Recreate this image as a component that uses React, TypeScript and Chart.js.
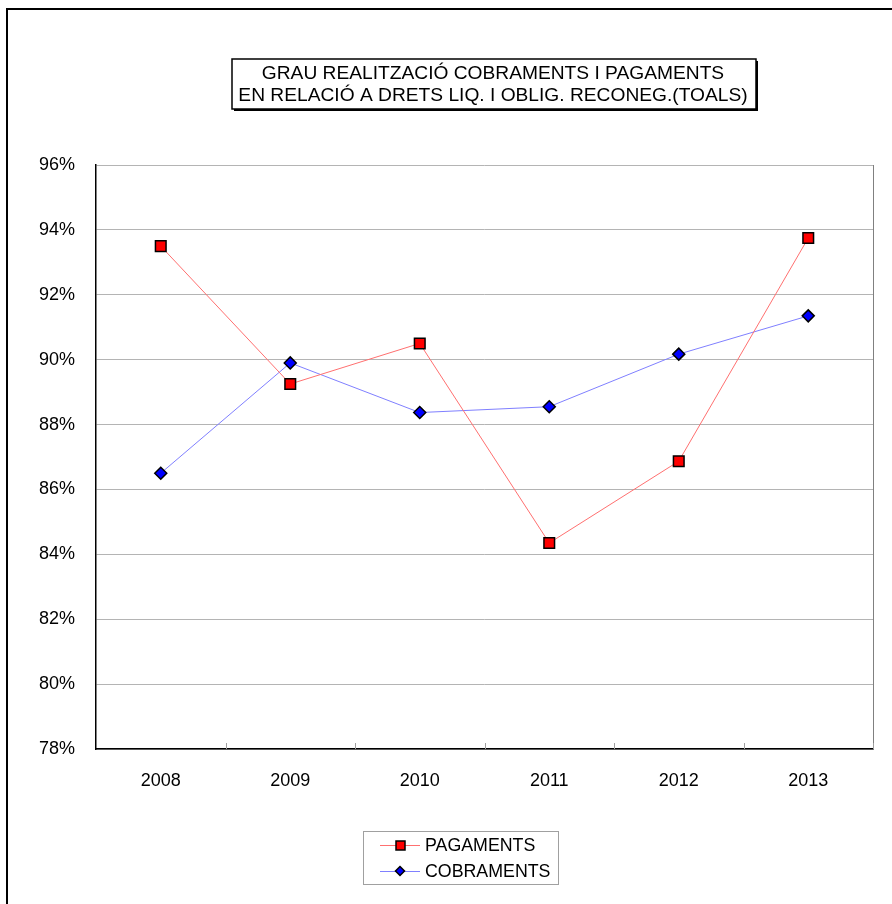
import React, { useEffect, useRef } from "react";
import { Chart, registerables } from "chart.js";

Chart.register(...registerables);

const categories = ["2008", "2009", "2010", "2011", "2012", "2013"];
const pagaments = [93.5, 89.25, 90.5, 84.35, 86.87, 93.75];
const cobraments = [86.5, 89.9, 88.37, 88.55, 90.17, 91.35];
const titleLines = [
  "GRAU REALITZACIÓ COBRAMENTS I PAGAMENTS",
  "EN RELACIÓ A DRETS LIQ. I OBLIG. RECONEG.(TOALS)",
];
const yMin = 78;
const yMax = 96;
const yStep = 2;

const FONT = "'Liberation Sans', Arial, sans-serif";

const decorPlugin = {
  id: "decor",
  beforeDraw(chart: any) {
    const { ctx } = chart;
    ctx.save();
    ctx.fillStyle = "#ffffff";
    ctx.fillRect(0, 0, chart.width, chart.height);
    ctx.restore();
  },
  afterDraw(chart: any) {
    const { ctx, chartArea } = chart;
    const x = chart.scales.x;
    ctx.save();
    // outer border
    ctx.strokeStyle = "#000";
    ctx.lineWidth = 2;
    ctx.beginPath();
    ctx.moveTo(7, 920);
    ctx.lineTo(7, 9);
    ctx.lineTo(900, 9);
    ctx.stroke();

    // right border of plot
    ctx.strokeStyle = "#808080";
    ctx.lineWidth = 1;
    ctx.beginPath();
    ctx.moveTo(chartArea.right + 0.5, chartArea.top);
    ctx.lineTo(chartArea.right + 0.5, chartArea.bottom);
    ctx.stroke();

    // small inner ticks at category boundaries
    ctx.strokeStyle = "#a0a0a0";
    for (let i = 0; i < categories.length; i++) {
      const px = Math.round((x.getPixelForValue(i) + x.getPixelForValue(i + 1)) / 2) + 0.5;
      ctx.beginPath();
      ctx.moveTo(px, chartArea.bottom);
      ctx.lineTo(px, chartArea.bottom - 6);
      ctx.stroke();
    }

    // title box
    const tb = { l: 232, t: 59, r: 756, b: 109 };
    ctx.fillStyle = "#000";
    ctx.fillRect(tb.l + 2, tb.t + 2, tb.r - tb.l, tb.b - tb.t);
    ctx.fillStyle = "#fff";
    ctx.fillRect(tb.l, tb.t, tb.r - tb.l, tb.b - tb.t);
    ctx.strokeStyle = "#000";
    ctx.lineWidth = 1.5;
    ctx.strokeRect(tb.l, tb.t, tb.r - tb.l, tb.b - tb.t);
    ctx.fillStyle = "#000";
    ctx.font = `19.2px ${FONT}`;
    ctx.textAlign = "center";
    ctx.textBaseline = "middle";
    ctx.fillText(titleLines[0], (tb.l + tb.r) / 2 - 1, 74);
    ctx.fillText(titleLines[1], (tb.l + tb.r) / 2 - 1, 95.5);

    // legend box
    const lb = { l: 363, t: 831, r: 558, b: 884 };
    ctx.strokeStyle = "#a0a0a0";
    ctx.lineWidth = 1;
    ctx.strokeRect(lb.l + 0.5, lb.t + 0.5, lb.r - lb.l, lb.b - lb.t);
    const ds = chart.data.datasets;
    const rows = [845, 871];
    ds.forEach((d: any, i: number) => {
      const y = rows[i];
      ctx.strokeStyle = d.borderColor;
      ctx.lineWidth = 1;
      ctx.beginPath();
      ctx.moveTo(380, y + 0.5);
      ctx.lineTo(420, y + 0.5);
      ctx.stroke();
      ctx.fillStyle = d.pointBackgroundColor;
      ctx.strokeStyle = "#000";
      ctx.lineWidth = 1.5;
      if (i === 0) {
        ctx.fillRect(396, y - 4, 9, 9);
        ctx.strokeRect(396, y - 4, 9, 9);
      } else {
        ctx.beginPath();
        ctx.moveTo(400, y - 4.5);
        ctx.lineTo(404.5, y);
        ctx.lineTo(400, y + 4.5);
        ctx.lineTo(395.5, y);
        ctx.closePath();
        ctx.fill();
        ctx.stroke();
      }
      ctx.fillStyle = "#000";
      ctx.font = `17.8px ${FONT}`;
      ctx.textAlign = "left";
      ctx.textBaseline = "middle";
      ctx.fillText(d.label, 425, y + 1);
    });
    ctx.restore();
  },
};

export default function App() {
  const ref = useRef<HTMLCanvasElement | null>(null);
  useEffect(() => {
    if (!ref.current) return;
    const chart = new Chart(ref.current, {
      type: "line",
      data: {
        labels: categories,
        datasets: [
          {
            label: "PAGAMENTS",
            data: pagaments,
            borderColor: "#ff7070",
            borderWidth: 1,
            pointStyle: "rect",
            pointRadius: 7.5,
            pointBackgroundColor: "#ff0000",
            pointBorderColor: "#000",
            pointBorderWidth: 1.5,
            tension: 0,
          },
          {
            label: "COBRAMENTS",
            data: cobraments,
            borderColor: "#8080ff",
            borderWidth: 1,
            pointStyle: "rectRot",
            pointRadius: 6,
            pointBackgroundColor: "#0000ff",
            pointBorderColor: "#000",
            pointBorderWidth: 1.5,
            tension: 0,
          },
        ],
      },
      options: {
        responsive: false,
        animation: false,
        devicePixelRatio: 1,
        layout: { padding: { left: 10, top: 165, right: 19, bottom: 105 } },
        plugins: {
          legend: { display: false },
          title: { display: false },
          tooltip: { enabled: false },
        },
        scales: {
          x: {
            type: "category",
            offset: true,
            grid: { display: false, drawTicks: false },
            border: { display: true, color: "#000", width: 1.5 },
            ticks: { color: "#000", font: { family: FONT, size: 18 }, padding: 21 },
            afterFit: (s: any) => {
              s.height = 50;
            },
          },
          y: {
            min: yMin,
            max: yMax,
            grid: { color: "#b4b4b4", lineWidth: 1, drawTicks: false },
            border: { display: true, color: "#000", width: 1.5 },
            ticks: {
              stepSize: yStep,
              color: "#000",
              font: { family: FONT, size: 18 },
              padding: 21,
              callback: (v: any) => `${v}%`,
            },
            afterFit: (s: any) => {
              s.width = 86;
            },
          },
        },
      },
      plugins: [decorPlugin],
    });
    return () => chart.destroy();
  }, []);
  return (
    <div style={{ position: "absolute", left: 0, top: 0, width: 892, height: 904 }}>
      <canvas ref={ref} width={892} height={904} style={{ display: "block", width: 892, height: 904 }} />
    </div>
  );
}
